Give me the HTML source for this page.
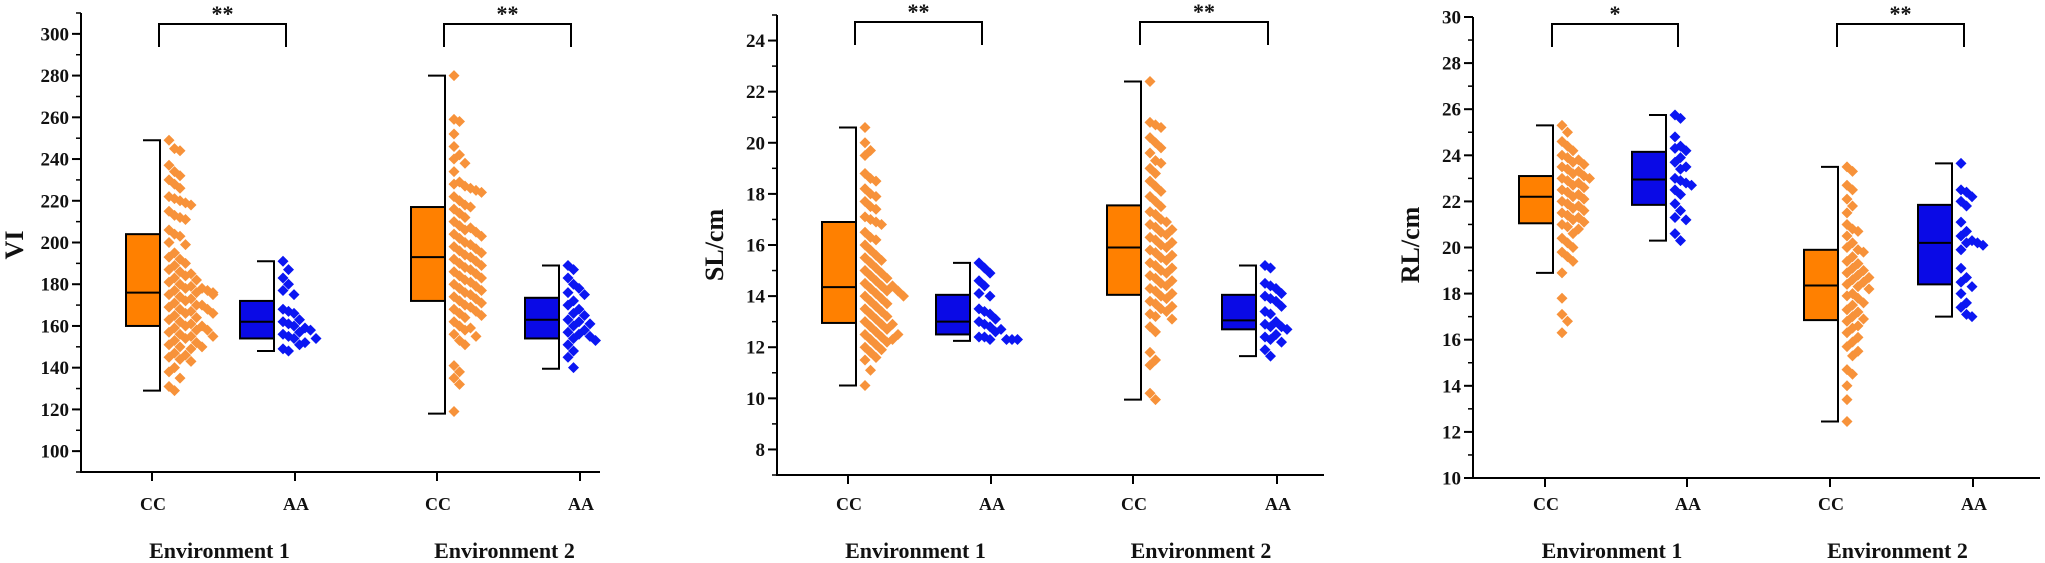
<!DOCTYPE html>
<html><head><meta charset="utf-8">
<style>
html,body{margin:0;padding:0;background:#fff;}
svg{display:block;}
text{font-family:"Liberation Serif",serif;font-weight:bold;fill:#111;}
</style></head>
<body>
<svg id="chart" width="2045" height="563" viewBox="0 0 2045 563" xmlns="http://www.w3.org/2000/svg"></svg>
<script>
// ---------- data ----------
const categories = ["CC","AA","CC","AA"];
const environments = ["Environment 1","Environment 2"];
const panelTitles = ["VI","SL/cm","RL/cm"];
const significance = [["**","**"],["**","**"],["*","**"]];

// box stats: [whiskerLow, Q1, median, Q3, whiskerHigh]
const viBoxes = [[129,160,176,204,249],[148,154,162,172,191],[118,172,193,217,280],[139.5,154,163,173.5,189]];
const slBoxes = [[10.5,12.95,14.35,16.9,20.6],[12.25,12.5,13.0,14.05,15.3],[9.95,14.05,15.9,17.55,22.4],[11.65,12.7,13.05,14.05,15.2]];
const rlBoxes = [[18.9,21.05,22.2,23.1,25.3],[20.3,21.85,22.95,24.15,25.75],[12.45,16.85,18.35,19.9,23.5],[17.0,18.4,20.2,21.85,23.65]];

const viCC1 = [249,245,244,237,234,232,230,228,226,222,221,220,219,218,215,213,212,211,206,204,203,200,199,195,193,192,190,189,187,186,185,184,183,182,181,180,179,178,178,177,177,176,176,175,175,174,173,172,171,170,170,169,168,168,167,166,166,165,164,163,162,161,160,160,159,158,158,157,156,155,155,154,153,152,151,150,150,149,147,146,145,144,143,140,138,135,131,129];
const viAA1 = [191,187,183,180,177,175,168,167,166,163,162,161,160,159,158,157,156,155,154,154,152,151,149,148];
const viCC2 = [280,259,258,252,246,242,240,238,234,229,228,227,226,225,224,222,220,218,217,216,214,212,210,208,207,206,205,204,203,202,200,199,198,197,196,195,194,193,192,191,190,189,188,187,186,185,184,183,182,181,180,179,178,177,176,175,174,173,172,171,170,169,168,167,166,165,164,162,160,159,158,156,155,153,151,141,138,135,132,119];
const viAA2 = [189,187,183,180,178,176,175,172,170,168,166,165,163,162,161,160,158,157,156,155,154,153,151,148,145,140];

const slCC1 = [20.6,20,19.7,19.5,18.8,18.6,18.5,18.2,18.0,17.9,17.7,17.5,17.4,17.1,17.0,16.9,16.8,16.5,16.3,16.2,16.0,15.8,15.6,15.5,15.4,15.3,15.1,15.0,14.9,14.8,14.7,14.6,14.5,14.4,14.4,14.3,14.2,14.2,14.1,14.0,14.0,13.9,13.8,13.7,13.6,13.5,13.4,13.3,13.2,13.1,13.0,12.9,12.9,12.8,12.7,12.6,12.5,12.5,12.4,12.3,12.3,12.2,12.1,12.0,11.9,11.8,11.6,11.5,11.1,10.5];
const slAA1 = [15.3,15.1,14.9,14.6,14.4,14.1,14.0,13.5,13.4,13.3,13.1,13.0,12.9,12.8,12.7,12.6,12.4,12.4,12.3,12.3,12.3,12.3];
const slCC2 = [22.4,20.8,20.7,20.6,20.2,20.0,19.8,19.6,19.3,19.2,19.0,18.8,18.5,18.3,18.1,17.9,17.7,17.5,17.3,17.2,17.0,16.9,16.8,16.7,16.6,16.5,16.4,16.3,16.2,16.1,16.0,15.9,15.8,15.7,15.6,15.5,15.4,15.3,15.2,15.1,15.0,14.9,14.8,14.7,14.6,14.5,14.4,14.3,14.2,14.1,14.0,13.9,13.8,13.7,13.6,13.5,13.4,13.3,13.2,13.1,12.8,12.6,11.8,11.5,11.3,10.2,9.95];
const slAA2 = [15.2,15.1,14.5,14.4,14.3,14.1,14.0,13.9,13.8,13.6,13.4,13.3,13.0,12.9,12.8,12.8,12.7,12.5,12.4,12.3,12.2,11.9,11.65];

const rlCC1 = [25.3,25.0,24.6,24.4,24.2,24.0,23.9,23.8,23.7,23.6,23.5,23.4,23.3,23.2,23.1,23.0,23.0,22.9,22.8,22.7,22.6,22.5,22.4,22.3,22.2,22.1,22.0,21.9,21.8,21.7,21.6,21.5,21.4,21.3,21.2,21.1,21.0,20.9,20.8,20.6,20.4,20.2,20.0,19.8,19.6,19.4,18.9,17.8,17.1,16.8,16.3];
const rlAA1 = [25.75,25.6,24.8,24.4,24.3,24.2,23.9,23.7,23.5,23.4,23.0,22.9,22.8,22.7,22.5,22.3,21.9,21.6,21.3,21.2,20.6,20.3];
const rlCC2 = [23.5,23.3,22.7,22.5,22.1,21.8,21.5,21.0,20.8,20.7,20.5,20.2,20.0,19.9,19.8,19.6,19.4,19.3,19.1,19.0,18.9,18.8,18.7,18.6,18.5,18.4,18.3,18.2,18.0,17.9,17.8,17.6,17.5,17.3,17.2,17.0,16.9,16.8,16.6,16.5,16.3,16.1,15.9,15.7,15.5,15.3,14.7,14.5,14.0,13.4,12.45];
const rlAA2 = [23.65,22.5,22.4,22.2,22.0,21.8,21.1,20.7,20.5,20.3,20.2,20.2,20.1,19.9,19.1,18.7,18.5,18.3,18.0,17.6,17.4,17.1,17.0];

const viTicks = [100,120,140,160,180,200,220,240,260,280,300];
const slTicks = [8,10,12,14,16,18,20,22,24];
const rlTicks = [10,12,14,16,18,20,22,24,26,28,30];

// ---------- layout ----------
const panels = [
 {key:"vi", ax:81, top:13, bottom:472, right:600, yMin:90, yMax:310, minor:10, ticks:viTicks, boxes:viBoxes, pts:[viCC1,viAA1,viCC2,viAA2], cx:[152,295,437,580], labelX:14, brTop:24, brLeg:47},
 {key:"sl", ax:777, top:15, bottom:475, right:1324, yMin:7, yMax:25, minor:1, ticks:slTicks, boxes:slBoxes, pts:[slCC1,slAA1,slCC2,slAA2], cx:[848,991,1133,1277], labelX:714, brTop:22, brLeg:45},
 {key:"rl", ax:1473, top:17, bottom:478, right:2040, yMin:10, yMax:30, minor:1, ticks:rlTicks, boxes:rlBoxes, pts:[rlCC1,rlAA1,rlCC2,rlAA2], cx:[1545,1687,1830,1973], labelX:1410, brTop:24, brLeg:47}
];
const svg = document.getElementById('chart');
const NS = "http://www.w3.org/2000/svg";
function mk(tag, attrs, parent){const e=document.createElementNS(NS,tag);for(const k in attrs)e.setAttribute(k,attrs[k]);(parent||svg).appendChild(e);return e;}

panels.forEach((p,pi)=>{
  const g = mk('g',{});
  
  
  const y = v => p.bottom - (v - p.yMin)/(p.yMax - p.yMin)*(p.bottom - p.top);

  const yAxis = mk('line',{x1:p.ax,y1:p.top,x2:p.ax,y2:p.bottom+1,stroke:'#000','stroke-width':2},g);
  
  
  const xAxis = mk('line',{x1:p.ax-1,y1:p.bottom,x2:p.right,y2:p.bottom,stroke:'#000','stroke-width':2},g);
  
  

  for(let v=Math.ceil(p.yMin/p.minor)*p.minor; v<=p.yMax+1e-9; v+=p.minor){
    mk('line',{x1:p.ax-5,y1:y(v),x2:p.ax,y2:y(v),stroke:'#000','stroke-width':1.5},g);
  }
  p.ticks.forEach(t=>{
    mk('line',{x1:p.ax-9,y1:y(t),x2:p.ax,y2:y(t),stroke:'#000','stroke-width':2},g);
    const tl = mk('text',{x:p.ax-12,y:y(t)+6.5,'text-anchor':'end','font-size':19},g);
    tl.textContent = t;
    
    
  });

  const yt = mk('text',{x:0,y:0,'text-anchor':'middle','font-size':26,transform:`translate(${p.labelX+9},245) rotate(-90)`},g);
  yt.textContent = panelTitles[pi];
  
  

  p.cx.forEach((cx,ci)=>{
    mk('line',{x1:cx,y1:p.bottom,x2:cx,y2:p.bottom+9,stroke:'#000','stroke-width':2},g);
    const xl = mk('text',{x:cx+1,y:510,'text-anchor':'middle','font-size':18},g);
    xl.textContent = categories[ci];
    
    
  });
  environments.forEach((env,ei)=>{
    const ex = (p.cx[ei*2]+p.cx[ei*2+1])/2 - 4;
    const el = mk('text',{x:ex,y:558,'text-anchor':'middle','font-size':22},g);
    el.textContent = env;
    
    
  });

  p.boxes.forEach((b,bi)=>{
    const isCC = bi%2===0;
    const cx = p.cx[bi];
    const bl = isCC ? cx-26 : cx-55;
    const br = isCC ? cx+8 : cx-21;
    const fill = isCC ? '#ff8000' : '#0a0ae6';
    const wk = mk('path',{d:`M${br-17},${y(b[0])}H${br}V${y(b[4])}H${br-17}`,fill:'none',stroke:'#000','stroke-width':2},g);
    
    
    const bx = mk('rect',{x:bl,y:y(b[3]),width:br-bl,height:y(b[1])-y(b[3]),fill:fill,stroke:'#000','stroke-width':2},g);
    
    
    mk('line',{x1:bl,y1:y(b[2]),x2:br,y2:y(b[2]),stroke:'#000','stroke-width':2},g);

    const vals = p.pts[bi];
    const start = br + 9;
    const pc = isCC ? '#f7923a' : '#0b16f2';
    const placed = [];
    vals.forEach(v=>{
      const py = y(v);
      let slot = 0;
      while(placed.some(q=>q.slot===slot && Math.abs(q.py-py)<11) && slot<8) slot++;
      placed.push({slot,py});
      const px = start + slot*5.5;
      const d = mk('path',{d:`M${px},${py-5.5}L${px+5.5},${py}L${px},${py+5.5}L${px-5.5},${py}Z`,fill:pc},g);
      
      
    });
  });

  [0,1].forEach(ei=>{
    const x1 = p.cx[ei*2]+7, x2 = p.cx[ei*2+1]-9;
    const br = mk('path',{d:`M${x1},${p.brLeg}V${p.brTop}H${x2}V${p.brLeg}`,fill:'none',stroke:'#000','stroke-width':2},g);
    
    
    const st = mk('text',{x:(x1+x2)/2,y:p.brTop-3,'text-anchor':'middle','font-size':22,'font-weight':'normal'},g);
    st.textContent = significance[pi][ei];
    
    
  });
});
</script>
</body></html>
